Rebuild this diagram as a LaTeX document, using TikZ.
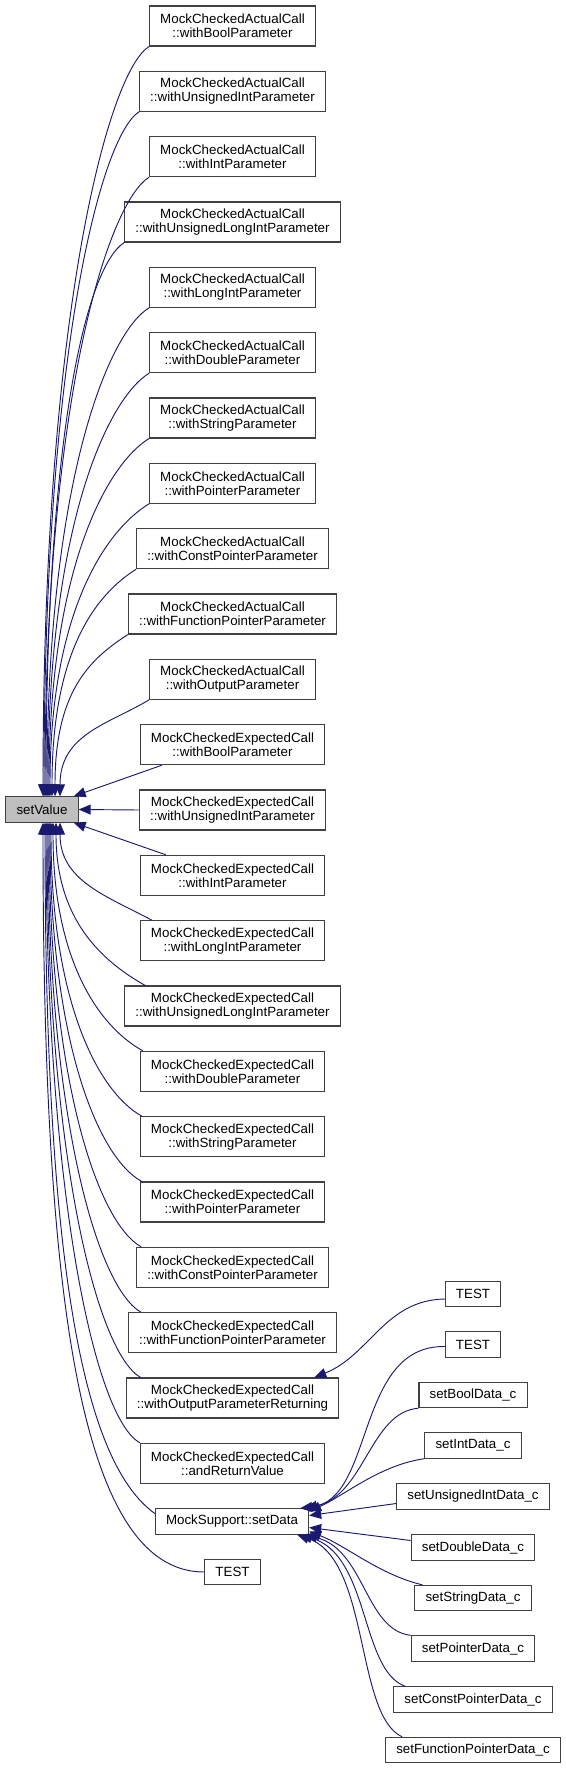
\documentclass[tikz,border=0pt]{standalone}
\usepackage{fontspec}
\setmainfont{Liberation Sans}
\usepackage{xcolor}
\usepackage{tikz}
\usetikzlibrary{arrows.meta, calc}
\definecolor{edgeblue}{HTML}{191970}
\definecolor{framegray}{HTML}{404040}
\definecolor{focusgray}{HTML}{BFBFBF}
\tikzstyle{fn} = [draw=framegray, line width=0.8pt, align=center, inner xsep=8pt, inner ysep=2pt, font=\fontsize{10}{10.5}\selectfont]
\tikzstyle{fntwo} = [fn, minimum height=30pt]
\tikzstyle{fnone} = [fn, minimum height=19pt]
\tikzstyle{call} = [edgeblue, line width=0.7pt, -{Triangle[length=9pt,width=7.5pt]}]

\begin{document}
\begin{tikzpicture}[x=0.75pt, y=-0.75pt]
    \useasboundingbox (0,0) rectangle (565,1769);

    % Called function
    \node[fnone, fill=focusgray] (setValue) at (42,809.5) {setValue};

    % Callers: MockCheckedActualCall
    \node[fntwo] (a0) at (232.5,26) {MockCheckedActualCall\\::withBoolParameter};
    \node[fntwo] (a1) at (232.5,91.3) {MockCheckedActualCall\\::withUnsignedIntParameter};
    \node[fntwo] (a2) at (232.5,156.7) {MockCheckedActualCall\\::withIntParameter};
    \node[fntwo] (a3) at (232.5,222) {MockCheckedActualCall\\::withUnsignedLongIntParameter};
    \node[fntwo] (a4) at (232.5,287.3) {MockCheckedActualCall\\::withLongIntParameter};
    \node[fntwo] (a5) at (232.5,352.7) {MockCheckedActualCall\\::withDoubleParameter};
    \node[fntwo] (a6) at (232.5,418) {MockCheckedActualCall\\::withStringParameter};
    \node[fntwo] (a7) at (232.5,483.3) {MockCheckedActualCall\\::withPointerParameter};
    \node[fntwo] (a8) at (232.5,548.7) {MockCheckedActualCall\\::withConstPointerParameter};
    \node[fntwo] (a9) at (232.5,614) {MockCheckedActualCall\\::withFunctionPointerParameter};
    \node[fntwo] (a10) at (232.5,679.3) {MockCheckedActualCall\\::withOutputParameter};

    % Callers: MockCheckedExpectedCall
    \node[fntwo] (e0) at (232.5,744.7) {MockCheckedExpectedCall\\::withBoolParameter};
    \node[fntwo] (e1) at (232.5,810) {MockCheckedExpectedCall\\::withUnsignedIntParameter};
    \node[fntwo] (e2) at (232.5,875.3) {MockCheckedExpectedCall\\::withIntParameter};
    \node[fntwo] (e3) at (232.5,940.7) {MockCheckedExpectedCall\\::withLongIntParameter};
    \node[fntwo] (e4) at (232.5,1006) {MockCheckedExpectedCall\\::withUnsignedLongIntParameter};
    \node[fntwo] (e5) at (232.5,1071.3) {MockCheckedExpectedCall\\::withDoubleParameter};
    \node[fntwo] (e6) at (232.5,1136.7) {MockCheckedExpectedCall\\::withStringParameter};
    \node[fntwo] (e7) at (232.5,1202) {MockCheckedExpectedCall\\::withPointerParameter};
    \node[fntwo] (e8) at (232.5,1267.3) {MockCheckedExpectedCall\\::withConstPointerParameter};
    \node[fntwo] (e9) at (232.5,1332.7) {MockCheckedExpectedCall\\::withFunctionPointerParameter};
    \node[fntwo] (e10) at (232.5,1398) {MockCheckedExpectedCall\\::withOutputParameterReturning};
    \node[fntwo] (e11) at (232.5,1463.3) {MockCheckedExpectedCall\\::andReturnValue};

    % Other callers
    \node[fnone] (setData) at (232,1521.5) {MockSupport::setData};
    \node[fnone] (test0) at (232.5,1572) {TEST};

    % Right column
    \node[fnone] (t1) at (473,1294) {TEST};
    \node[fnone] (t2) at (473,1344.5) {TEST};
    \node[fnone] (sb) at (473,1395) {setBoolData\_c};
    \node[fnone] (si) at (473,1445.5) {setIntData\_c};
    \node[fnone] (su) at (473,1496.5) {setUnsignedIntData\_c};
    \node[fnone] (sd) at (473,1547.5) {setDoubleData\_c};
    \node[fnone] (ss) at (473,1598) {setStringData\_c};
    \node[fnone] (sp) at (473,1648.5) {setPointerData\_c};
    \node[fnone] (scp) at (473,1699.5) {setConstPointerData\_c};
    \node[fnone] (sfp) at (473,1750) {setFunctionPointerData\_c};

    % Edges into setValue from above
    \draw[call] (a0.south west) .. controls (109,71) and (43,309) .. ($(setValue.north)+(1,0)$);
    \draw[call] (a1.south west) .. controls (101,136) and (44,351) .. ($(setValue.north)+(2,0)$);
    \draw[call] (a2.south west) .. controls (109,202) and (45,394) .. ($(setValue.north)+(3,0)$);
    \draw[call] (a3.south west) .. controls (86,267) and (46,436) .. ($(setValue.north)+(4,0)$);
    \draw[call] (a4.south west) .. controls (109,332) and (47,479) .. ($(setValue.north)+(5,0)$);
    \draw[call] (a5.south west) .. controls (109,398) and (48,521) .. ($(setValue.north)+(6,0)$);
    \draw[call] (a6.south west) .. controls (109,463) and (49,564) .. ($(setValue.north)+(7,0)$);
    \draw[call] (a7.south west) .. controls (109,528) and (50,606) .. ($(setValue.north)+(8,0)$);
    \draw[call] (a8.south west) .. controls (97,594) and (52,649) .. ($(setValue.north)+(10,0)$);
    \draw[call] (a9.south west) .. controls (90,659) and (55,691) .. ($(setValue.north)+(13,0)$);
    \draw[call] (a10.south west) .. controls (109,724) and (60,734) .. ($(setValue.north)+(18,0)$);

    % Nearly straight edges
    \draw[call] ($(e0.south west)+(22,0)$) -- ($(setValue.north east)+(-5,0)$);
    \draw[call] (e1.west) -- (setValue.east);
    \draw[call] ($(e2.north west)+(26,0)$) -- ($(setValue.south east)+(-5,0)$);

    % Edges into setValue from below
    \draw[call] ($(e3.north west)+(12,0)$) .. controls (107,896) and (60,881) .. ($(setValue.south)+(18,0)$);
    \draw[call] ($(e4.north west)+(21,0)$) .. controls (102,961) and (56,920) .. ($(setValue.south)+(14,0)$);
    \draw[call] ($(e5.north west)+(3,0)$) .. controls (98,1026) and (53,959) .. ($(setValue.south)+(11,0)$);
    \draw[call] ($(e6.north west)+(2,0)$) .. controls (97,1091) and (51,999) .. ($(setValue.south)+(9,0)$);
    \draw[call] ($(e7.north west)+(2,0)$) .. controls (97,1157) and (50,1038) .. ($(setValue.south)+(8,0)$);
    \draw[call] ($(e8.north west)+(5,0)$) .. controls (97,1222) and (49,1077) .. ($(setValue.south)+(7,0)$);
    \draw[call] ($(e9.north west)+(13,0)$) .. controls (97,1287) and (48,1116) .. ($(setValue.south)+(6,0)$);
    \draw[call] ($(e10.north west)+(15,0)$) .. controls (97,1353) and (47,1156) .. ($(setValue.south)+(5,0)$);
    \draw[call] (e11.north west) .. controls (95,1418) and (46,1195) .. ($(setValue.south)+(4,0)$);
    \draw[call] ($(setData.west)+(0,-8)$) .. controls (80,1460) and (45,1250) .. ($(setValue.south)+(3,0)$);
    \draw[call] (test0.west) .. controls (80,1572) and (43,1300) .. ($(setValue.south)+(1,0)$);

    % Right column edges
    \draw[call] ($(t1.west)+(0,5)$) .. controls (385,1300) and (370,1355) .. ($(e10.north east)+(-25,0)$);
    \draw[call] ($(t2.west)+(0,2)$) .. controls (355,1345) and (375,1500) .. ($(setData.north east)+(-9,0)$);
    \draw[call] (sb.south west) .. controls (370,1412) and (365,1495) .. ($(setData.north east)+(-4,0)$);
    \draw[call] (si.south west) .. controls (380,1465) and (345,1495) .. ($(setData.east)+(0,-10)$);
    \draw[call] ($(su.west)+(0,7)$) -- ($(setData.east)+(0,-6)$);
    \draw[call] ($(sd.west)+(0,-7)$) -- ($(setData.east)+(0,6)$);
    \draw[call] ($(ss.north west)+(8,0)$) .. controls (380,1575) and (345,1545) .. ($(setData.east)+(0,10)$);
    \draw[call] (sp.north west) .. controls (365,1630) and (365,1550) .. ($(setData.south east)+(-4,0)$);
    \draw[call] ($(scp.north west)+(12,0)$) .. controls (360,1670) and (370,1555) .. ($(setData.south east)+(-9,0)$);
    \draw[call] ($(sfp.north west)+(17,0)$) .. controls (355,1715) and (370,1560) .. ($(setData.south east)+(-12,0)$);
\end{tikzpicture}
\end{document}
